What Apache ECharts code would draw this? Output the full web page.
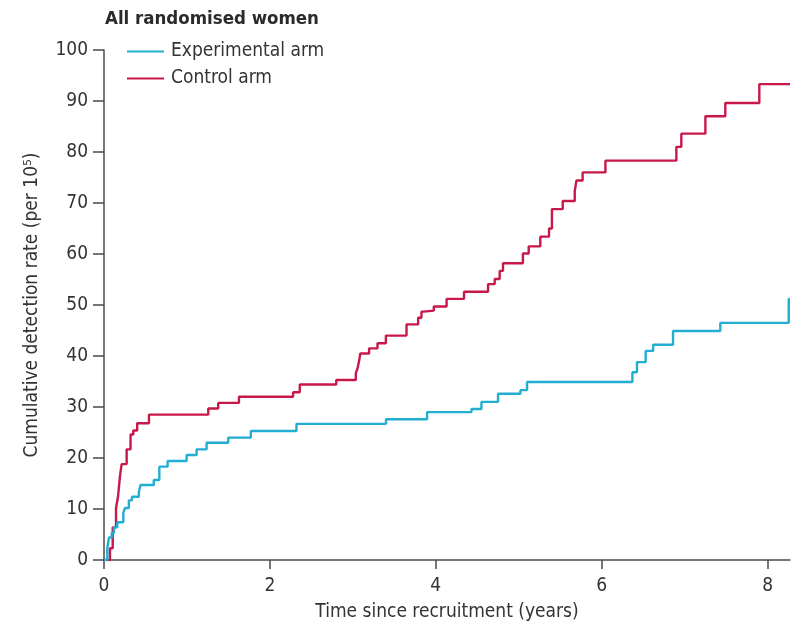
<!DOCTYPE html>
<html>
<head>
<meta charset="utf-8">
<script src="https://cdn.jsdelivr.net/npm/echarts@6/dist/echarts.min.js"></script>
<style>
  html, body { margin: 0; padding: 0; background: #fff; }
  #chart { width: 791px; height: 627px; }
</style>
</head>
<body>
<div id="chart"></div>
<script>
// Cumulative detection rate (per 10^5) over years since recruitment, step curves
const controlTimes = [0, 0.072, 0.105, 0.145, 0.169, 0.193, 0.213, 0.273, 0.32, 0.353, 0.40, 0.542,
  1.257, 1.377, 1.627, 2.28, 2.36, 2.80, 3.036, 3.056, 3.076, 3.09, 3.196, 3.297, 3.398, 3.647,
  3.787, 3.827, 3.855, 3.976, 4.13, 4.34, 4.63, 4.71, 4.77, 4.81, 5.05, 5.12, 5.26, 5.365, 5.40,
  5.53, 5.675, 5.695, 5.77, 6.045, 6.90, 6.96, 7.25, 7.49, 7.90, 8.27];
const controlRates = [0, 2.3, 6.4, 10.2, 12.4, 16.5, 18.8, 21.7, 24.6, 25.4, 26.8, 28.5,
  29.7, 30.8, 32.0, 32.9, 34.4, 35.3, 36.7, 37.5, 39.1, 40.5, 41.5, 42.5, 44.0, 46.2,
  47.5, 48.7, 48.9, 49.7, 51.2, 52.6, 54.1, 55.1, 56.7, 58.2, 60.1, 61.5, 63.4, 65.0, 68.8,
  70.4, 72.3, 74.4, 76.0, 78.3, 81.0, 83.6, 87.0, 89.6, 93.3, 93.3];

const experimentalTimes = [0, 0.04, 0.06, 0.093, 0.12, 0.16, 0.233, 0.253, 0.30, 0.337, 0.42, 0.44,
  0.60, 0.667, 0.767, 0.996, 1.117, 1.237, 1.498, 1.77, 2.32, 3.40, 3.895, 4.43, 4.55, 4.75,
  5.02, 5.10, 6.37, 6.425, 6.53, 6.62, 6.86, 7.43, 8.255, 8.27];
const experimentalRates = [0, 2.3, 4.4, 5.3, 6.4, 7.4, 9.3, 10.2, 11.7, 12.4, 13.3, 14.7,
  15.7, 18.3, 19.4, 20.6, 21.7, 23.0, 24.0, 25.3, 26.7, 27.6, 29.0, 29.6, 31.0, 32.6,
  33.3, 34.9, 36.8, 38.8, 41.0, 42.2, 44.9, 46.5, 51.2, 51.2];

const xTicks = [0, 2, 4, 6, 8];
const seriesNames = ['Experimental arm', 'Control arm'];

const FONT = '"Liberation Sans Narrow", "DejaVu Sans Condensed", "Open Sans", sans-serif';
const TEXT = '#333333';
const AXIS = '#4a4a4a';

const pairs = (xs, ys) => xs.map((x, i) => [x, ys[i]]);

const chart = echarts.init(document.getElementById('chart'), null, { renderer: 'canvas' });
chart.setOption({
  animation: false,
  backgroundColor: '#ffffff',
  title: {
    text: 'All randomised women',
    left: 100,
    top: 5,
    textStyle: { fontFamily: FONT, fontWeight: 'bold', fontSize: 18.5, color: '#2b2b2b' }
  },
  legend: {
    orient: 'vertical',
    left: 127,
    top: 42,
    padding: 0,
    icon: 'rect',
    itemWidth: 37,
    itemHeight: 2,
    itemGap: 8,
    data: seriesNames,
    textStyle: { fontFamily: FONT, fontSize: 19, color: TEXT, padding: [0, 0, 0, 2] }
  },
  grid: { left: 104, right: 1, top: 50, bottom: 64, containLabel: false },
  xAxis: {
    type: 'value',
    min: 0,
    max: 8.27,
    name: 'Time since recruitment (years)',
    nameLocation: 'middle',
    nameGap: 43,
    nameTextStyle: { fontFamily: FONT, fontSize: 19, color: TEXT },
    axisLine: { lineStyle: { color: AXIS, width: 1.5 } },
    axisTick: { show: true, length: 9, customValues: xTicks, lineStyle: { color: AXIS, width: 1.5 } },
    axisLabel: { customValues: xTicks, margin: 17, fontFamily: FONT, fontSize: 19, color: TEXT },
    splitLine: { show: false }
  },
  yAxis: {
    type: 'value',
    min: 0,
    max: 100,
    interval: 10,
    name: 'Cumulative detection rate (per 10\u2075)',
    nameLocation: 'middle',
    nameGap: 62,
    nameTextStyle: { fontFamily: FONT, fontSize: 19, color: TEXT },
    axisLine: { show: true, lineStyle: { color: AXIS, width: 1.5 } },
    axisTick: { show: true, length: 11, lineStyle: { color: AXIS, width: 1.5 } },
    axisLabel: { margin: 16, fontFamily: FONT, fontSize: 19, color: TEXT },
    splitLine: { show: false }
  },
  series: [
    {
      name: seriesNames[0],
      type: 'line',
      step: 'end',
      symbol: 'none',
      data: pairs(experimentalTimes, experimentalRates),
      lineStyle: { color: '#22aed3', width: 2.4 },
      itemStyle: { color: '#22aed3' },
      z: 3
    },
    {
      name: seriesNames[1],
      type: 'line',
      step: 'end',
      symbol: 'none',
      data: pairs(controlTimes, controlRates),
      lineStyle: { color: '#c8184a', width: 2.4 },
      itemStyle: { color: '#c8184a' },
      z: 2
    }
  ]
});
</script>
</body>
</html>
